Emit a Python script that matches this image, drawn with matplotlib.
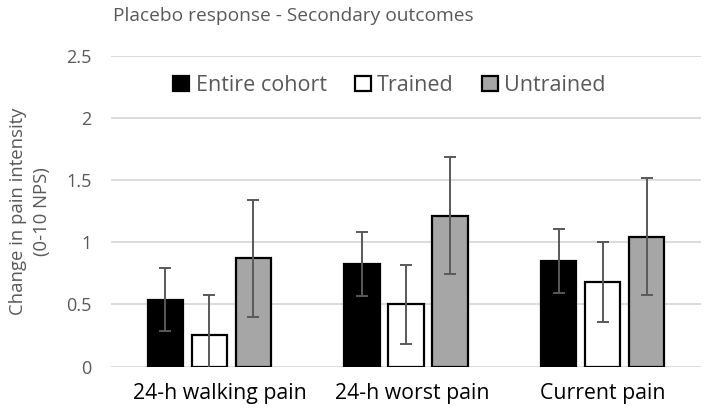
import matplotlib
matplotlib.use("Agg")
import matplotlib.pyplot as plt
import matplotlib.transforms as mtransforms
import numpy as np

categories = ["24-h walking pain", "24-h worst pain", "Current pain"]
series_names = ["Entire cohort", "Trained", "Untrained"]
entire = [0.54, 0.825, 0.85]
entire_err = [0.25, 0.26, 0.255]
trained = [0.255, 0.50, 0.68]
trained_err = [0.32, 0.32, 0.32]
untrained = [0.87, 1.215, 1.045]
untrained_err = [0.47, 0.47, 0.47]
yticks = [0, 0.5, 1, 1.5, 2, 2.5]
ytick_labels = ["0", "0.5", "1", "1.5", "2", "2.5"]

plt.rcParams['font.family'] = ['Open Sans', 'DejaVu Sans']
grey_text = "#595959"

fig = plt.figure(figsize=(7.04, 4.11), dpi=100)
ax = fig.add_axes([0.1577, 0.1078, 0.8380, 0.7567])

x = np.arange(len(categories))
width = 0.18
step = 0.223
colors = ["black", "white", "#a6a6a6"]
vals = [entire, trained, untrained]
errs = [entire_err, trained_err, untrained_err]
handles = []
for i, (v, e, c, n) in enumerate(zip(vals, errs, colors, series_names)):
    b = ax.bar(x + (i - 1) * step, v, width, color=c, edgecolor="black",
               linewidth=1.6, label=n, zorder=3)
    ax.errorbar(x + (i - 1) * step, v, yerr=e, fmt="none", ecolor=grey_text,
                elinewidth=1.4, capsize=4, capthick=1.4, zorder=4)
    handles.append(b)

ax.set_xlim(-0.5, len(categories) - 0.5)
ax.set_ylim(0, 2.5)
ax.set_yticks(yticks)
ax.set_yticklabels(ytick_labels)
ax.set_xticks(x)
ax.set_xticklabels(categories)
ax.grid(axis="y", color="#d9d9d9", linewidth=1.3, zorder=0)
ax.set_axisbelow(True)
for s in ax.spines.values():
    s.set_visible(False)
ax.tick_params(axis="y", length=0, pad=14, labelsize=13, labelcolor=grey_text)
ax.tick_params(axis="x", length=0, pad=12, labelsize=15.3, labelcolor="black")

# small horizontal nudges of category labels (pixels) as in the reference
for lbl, dx in zip(ax.get_xticklabels(), [11, 6, 0]):
    lbl.set_transform(lbl.get_transform() +
                      mtransforms.ScaledTranslation(dx / 100, 0, fig.dpi_scale_trans))

ax.set_ylabel("Change in pain intensity\n(0-10 NPS)", fontsize=13.3, color=grey_text,
              linespacing=1.45)
ax.yaxis.set_label_coords(-0.102, 0.5)

leg = ax.legend(handles=handles, loc="center", bbox_to_anchor=(0.472, 0.904),
                ncol=3, frameon=False, fontsize=15.5, handlelength=0.75,
                handleheight=0.75, handletextpad=0.3, columnspacing=1.3,
                labelcolor=grey_text)

fig.text(0.160, 0.962, "Placebo response - Secondary outcomes", fontsize=13.8,
         color=grey_text, ha="left", va="center")

fig.savefig("out.png", dpi=100)
